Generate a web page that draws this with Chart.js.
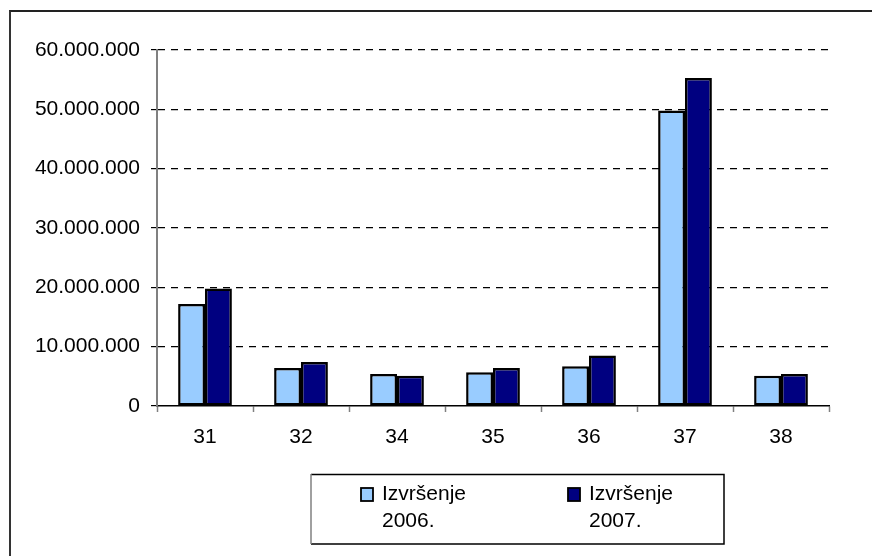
<!DOCTYPE html>
<html>
<head>
<meta charset="utf-8">
<script src="https://cdn.jsdelivr.net/npm/chart.js@4/dist/chart.umd.min.js"></script>
<style>
    html, body { margin: 0; padding: 0; background: #fff; }
    #wrap { position: relative; width: 872px; height: 556px; overflow: hidden; }
    #frame {
        position: absolute; left: 9px; top: 10px; width: 900px; height: 600px;
        border-left: 2px solid #333; border-top: 2px solid #222;
    }
    canvas { position: absolute; left: 0; top: 0; }
</style>
</head>
<body>
<div id="wrap">
    <div id="frame"></div>
    <canvas id="chart" width="872" height="556"></canvas>
</div>
<script>
// chart data
const categories = ['31', '32', '34', '35', '36', '37', '38'];
const izvrsenje2006 = [17200000, 6400000, 5400000, 5700000, 6700000, 49800000, 5100000];
const izvrsenje2007 = [19800000, 7400000, 5100000, 6400000, 8500000, 55300000, 5400000];
const seriesLabels = [['Izvršenje', '2006.'], ['Izvršenje', '2007.']];
const yTicks = [0, 10000000, 20000000, 30000000, 40000000, 50000000, 60000000];

const FONT = 'Liberation Sans, Arial, sans-serif';
const FONT_SIZE = 21;

function formatNum(v) {
    return String(v).replace(/\B(?=(\d{3})+(?!\d))/g, '.');
}

// legend drawn by hand so the two-line labels sit like the original
const boxLegend = {
    id: 'boxLegend',
    afterDraw(chart) {
        const ctx = chart.ctx;
        ctx.save();
        // frame
        ctx.lineWidth = 1.5;
        ctx.strokeStyle = '#000';
        ctx.beginPath();
        ctx.moveTo(311, 474.5);
        ctx.lineTo(724, 474.5);
        ctx.lineTo(724, 544);
        ctx.lineTo(311, 544);
        ctx.stroke();
        ctx.strokeStyle = '#808080';
        ctx.beginPath();
        ctx.moveTo(311, 474);
        ctx.lineTo(311, 544);
        ctx.stroke();

        const itemX = [361, 568];
        ctx.font = FONT_SIZE + 'px ' + FONT;
        ctx.textBaseline = 'alphabetic';
        chart.data.datasets.forEach((ds, i) => {
            ctx.fillStyle = ds.backgroundColor;
            ctx.fillRect(itemX[i], 488, 12, 13);
            ctx.lineWidth = 1.8;
            ctx.strokeStyle = '#000';
            ctx.strokeRect(itemX[i], 488, 12, 13);
            ctx.fillStyle = '#000';
            seriesLabels[i].forEach((line, j) => {
                ctx.fillText(line, itemX[i] + 21, 500 + j * 27);
            });
        });
        ctx.restore();
    }
};

new Chart(document.getElementById('chart'), {
    type: 'bar',
    data: {
        labels: categories,
        datasets: [{
            label: 'Izvršenje 2006.',
            data: izvrsenje2006,
            backgroundColor: '#99CCFF',
            borderColor: '#000',
            borderWidth: 2.5,
            borderSkipped: false,
            categoryPercentage: 0.56,
            barPercentage: 1
        }, {
            label: 'Izvršenje 2007.',
            data: izvrsenje2007,
            backgroundColor: '#000080',
            borderColor: '#000',
            borderWidth: 2.5,
            borderSkipped: false,
            categoryPercentage: 0.56,
            barPercentage: 1
        }]
    },
    options: {
        responsive: false,
        animation: false,
        layout: { padding: { top: 50, right: 43, left: 0, bottom: 0 } },
        plugins: {
            legend: { display: false },
            tooltip: { enabled: false }
        },
        scales: {
            x: {
                afterFit: (s) => { s.height = 150; },
                grid: {
                    drawOnChartArea: false,
                    tickLength: 6,
                    tickColor: '#808080',
                    tickWidth: 1.5
                },
                border: { color: '#000', width: 1.5 },
                ticks: { color: '#000', padding: 13, font: { family: FONT, size: FONT_SIZE } }
            },
            y: {
                min: 0,
                max: 60000000,
                afterFit: (s) => { s.width = 157; },
                afterBuildTicks: (s) => { s.ticks = yTicks.map(v => ({ value: v })); },
                grid: {
                    color: (c) => c.tick && c.tick.value === 0 ? 'rgba(0,0,0,0)' : '#000',
                    lineWidth: 1.2,
                    tickLength: 6,
                    tickColor: '#000',
                    tickBorderDash: [],
                    drawTicks: true
                },
                border: { color: '#808080', width: 2, dash: [7, 6] },
                ticks: {
                    color: '#000',
                    padding: 11,
                    font: { family: FONT, size: FONT_SIZE },
                    callback: (v) => formatNum(v)
                }
            }
        }
    },
    plugins: [boxLegend]
});
</script>
</body>
</html>
